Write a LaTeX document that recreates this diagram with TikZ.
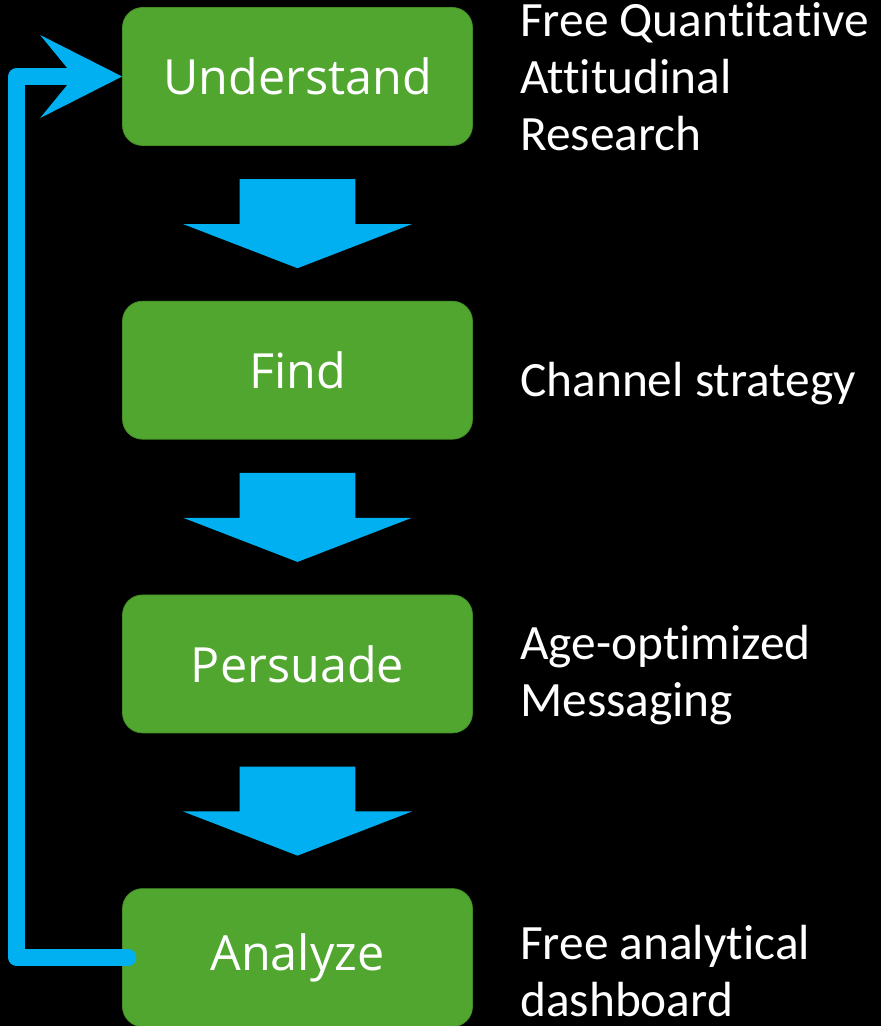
\documentclass[tikz,border=0pt]{standalone}
\usepackage{fontspec}
\setmainfont{Carlito}[RawFeature={-liga;-clig;-calt;-dlig;-rlig}]
\newfontfamily\boxfont{Open Sans}
\usetikzlibrary{positioning,calc,shapes.arrows,arrows.meta}
\definecolor{stepgreen}{RGB}{80,166,46}
\definecolor{stepblue}{RGB}{0,176,240}
\tikzset{>=latex}

\begin{document}
\begin{tikzpicture}[%
                    node distance=3.1cm,
                    stage/.style={draw=stepgreen!85!black,fill=stepgreen,rounded corners=0.4cm,
                                  minimum width=7cm,minimum height=2.76cm,text=white,
                                  font=\boxfont\fontsize{27.6}{33}\selectfont},
                    remark/.style={align=left,text=white,inner sep=0pt,
                                   font=\fontsize{28.1}{32.4}\selectfont},
                    flow/.style={single arrow,fill=stepblue,draw=none,rotate=-90,anchor=tail,
                                 inner xsep=0pt,inner ysep=1.15cm,minimum height=1.78cm,
                                 single arrow head extend=1.13cm,single arrow tip angle=137.8},
                    loopline/.style={draw=stepblue,line width=0.33cm,line join=round,line cap=round,
                                     -{Stealth[length=1.64cm,width=1.66cm,inset=0.68cm,line width=0pt]}}
        ]
    \useasboundingbox[fill=black] (0,0) rectangle (17.62,-20.52);
    % the four steps
    \node[stage] (un) at (5.95,-1.53) {Understand};
    \node[stage,below=of un] (fi) {Find};
    \node[stage,below=of fi] (pe) {Persuade};
    \node[stage,below=of pe] (an) {Analyze};
    % arrows between the steps
    \node[flow] (a1) at ([yshift=-0.66cm]un.south) {};
    \node[flow] (a2) at ([yshift=-0.66cm]fi.south) {};
    \node[flow] (a3) at ([yshift=-0.66cm]pe.south) {};
    % notes on the right
    \node[remark,right=0.94cm of un] (tu) {Free Quantitative\\Attitudinal\\Research};
    \node[remark,right=0.94cm of fi,yshift=-0.26cm] (tf) {Channel strategy};
    \node[remark,right=0.94cm of pe,yshift=-0.22cm] (tp) {Age-optimized\\Messaging};
    \node[remark,right=0.94cm of an,yshift=-0.26cm] (ta) {Free analytical\\dashboard};
    % back to the start
    \coordinate (loopx) at (0.33,0);
    \draw[loopline] ([xshift=0.12cm]an.west) -| (loopx |- un.west) -- (un.west);
\end{tikzpicture}
\end{document}
